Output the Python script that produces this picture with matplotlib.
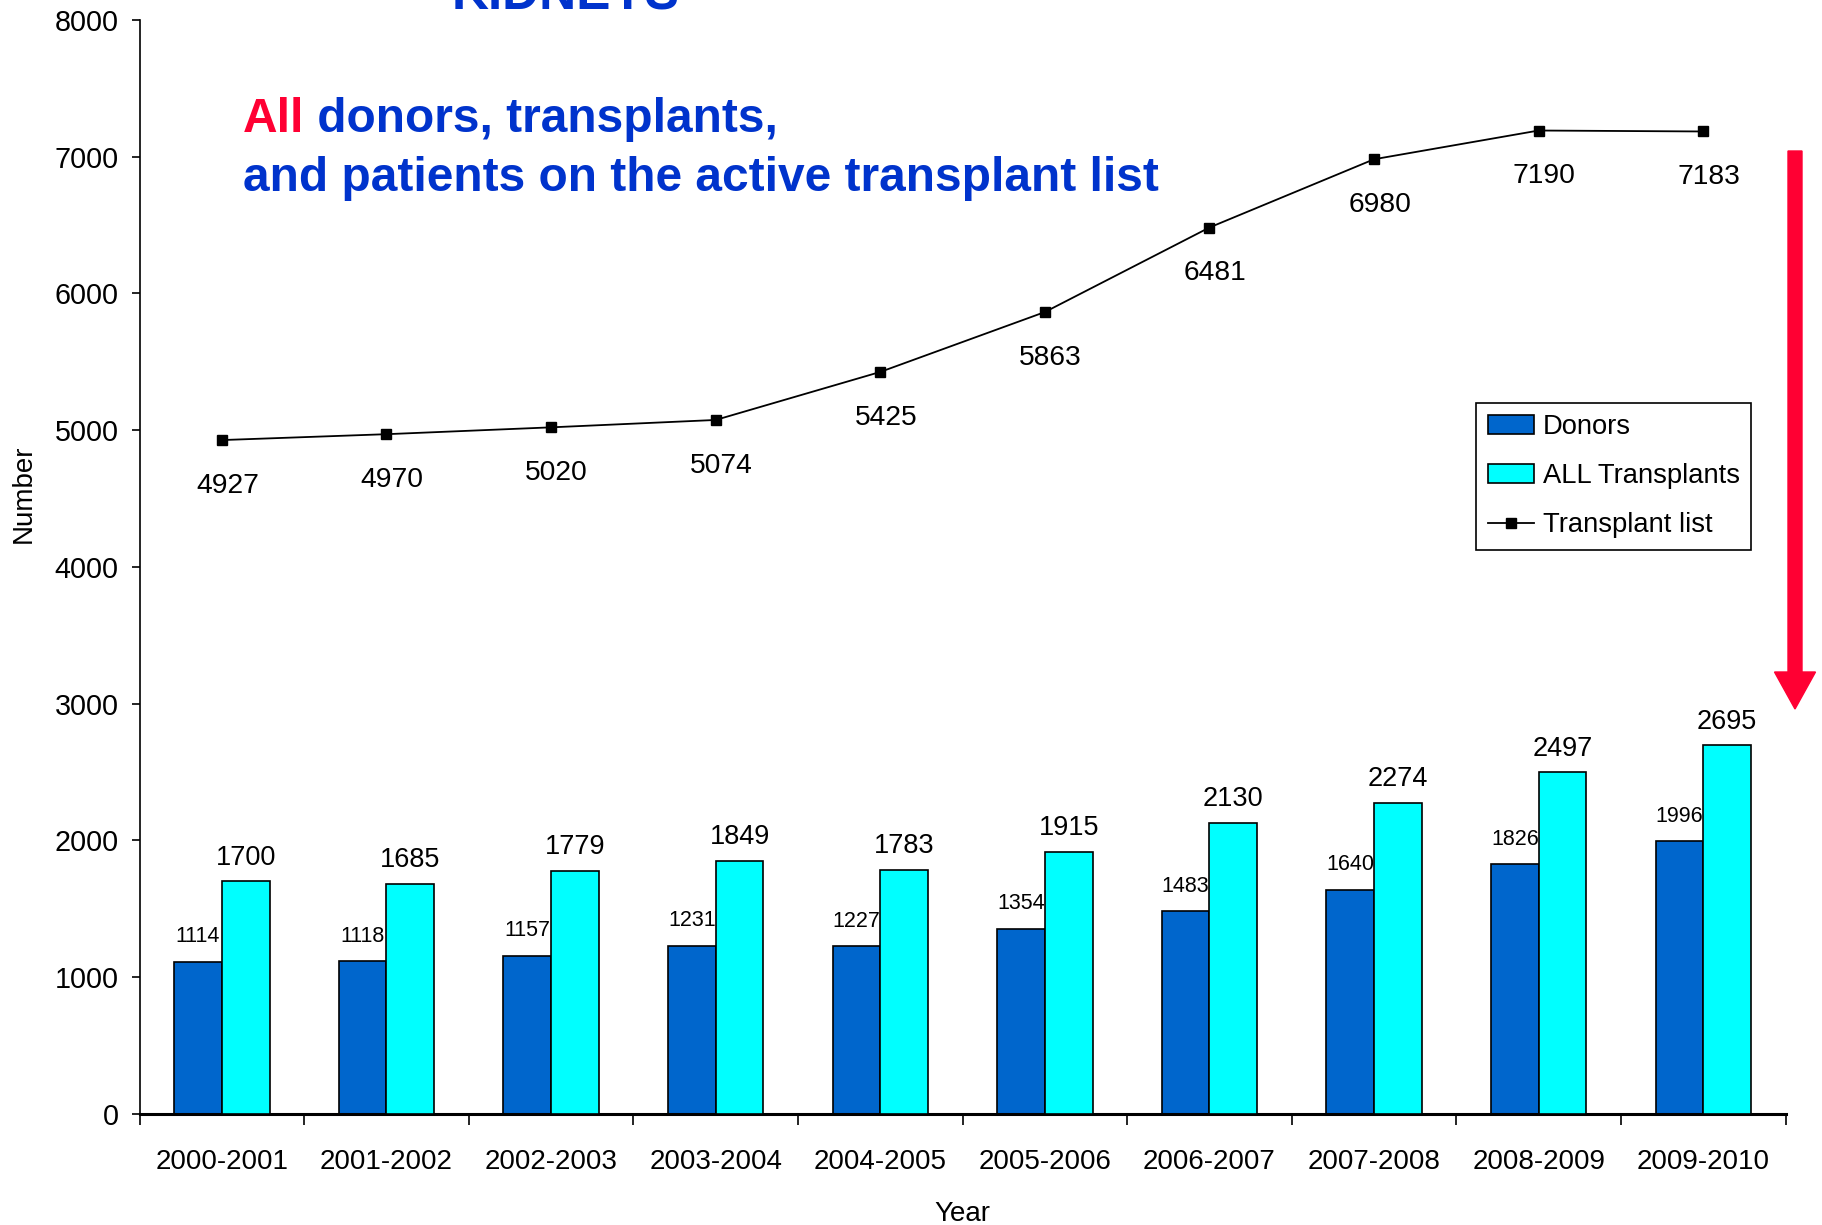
import matplotlib
matplotlib.use("Agg")
import matplotlib.pyplot as plt
from matplotlib.patches import FancyArrow
import numpy as np

# ---- data ----
anos = ["2000-2001", "2001-2002", "2002-2003", "2003-2004", "2004-2005",
        "2005-2006", "2006-2007", "2007-2008", "2008-2009", "2009-2010"]
doadores = [1114, 1118, 1157, 1231, 1227, 1354, 1483, 1640, 1826, 1996]
transplantes = [1700, 1685, 1779, 1849, 1783, 1915, 2130, 2274, 2497, 2695]
lista_espera = [4927, 4970, 5020, 5074, 5425, 5863, 6481, 6980, 7190, 7183]

plt.rcParams['font.family'] = ['Liberation Sans', 'DejaVu Sans']

azul_titulo = "#0033CC"
vermelho = "#FF0033"

fig = plt.figure(figsize=(18.22, 12.25), dpi=100)
ax = fig.add_axes([0.0766, 0.0906, 0.9034, 0.8933])

x = np.arange(len(anos))
w = 0.29

b1 = ax.bar(x - w / 2, doadores, w, color="#0066CC", edgecolor="black",
            linewidth=1.2, label="Donors", zorder=2)
b2 = ax.bar(x + w / 2, transplantes, w, color="#00FFFF", edgecolor="black",
            linewidth=1.2, label="ALL Transplants", zorder=3)
l1, = ax.plot(x, lista_espera, color="black", linewidth=1.3, marker="s",
              markersize=7, label="Transplant list", zorder=4)

# rótulos de valores
for i in range(len(anos)):
    ax.annotate(str(doadores[i]), (x[i] - w / 2, doadores[i]),
                xytext=(0, 14), textcoords="offset points",
                ha="center", va="baseline", fontsize=15.5, zorder=1)
    ax.annotate(str(transplantes[i]), (x[i] + w / 2, transplantes[i]),
                xytext=(0, 12), textcoords="offset points",
                ha="center", va="baseline", fontsize=19.5)
    ax.annotate(str(lista_espera[i]), (x[i], lista_espera[i]),
                xytext=(4, -38), textcoords="offset points",
                ha="center", va="baseline", fontsize=20.3)

# eixos
ax.set_xlim(-0.5, len(anos) - 0.5)
ax.set_ylim(0, 8000)
ax.set_yticks(np.arange(0, 8001, 1000))
ax.set_xticks(x)
ax.set_xticklabels(anos)
ax.set_xticks(np.arange(-0.5, len(anos), 1), minor=True)
ax.tick_params(axis="x", which="major", length=0, pad=25, labelsize=20)
ax.tick_params(axis="x", which="minor", length=8, width=1.2, direction="out")
ax.tick_params(axis="y", length=6, width=1.2, pad=9, labelsize=20.7)

ax.spines["top"].set_visible(False)
ax.spines["right"].set_visible(False)
ax.spines["left"].set_linewidth(1.2)
ax.spines["bottom"].set_linewidth(2.2)

ax.set_ylabel("Number", fontsize=20)
ax.set_xlabel("Year", fontsize=20)
ax.yaxis.set_label_coords(-0.0623, 0.567)
ax.xaxis.set_label_coords(0.5, -0.0795)

leg = ax.legend(handles=[b1, b2, l1], loc="upper right",
                bbox_to_anchor=(0.979, 0.650),
                fontsize=19.7, frameon=True, fancybox=False,
                edgecolor="black", framealpha=1, borderpad=0.42,
                labelspacing=0.84, handlelength=1.7, handleheight=0.7,
                handletextpad=0.3, borderaxespad=0)
leg.get_frame().set_linewidth(1.2)

# títulos
fig.text(566 / 1822, 1 - 9.3 / 1225, "KIDNEYS", color=azul_titulo,
         fontsize=37, fontweight="bold", ha="center", va="baseline")
t_all = fig.text(243 / 1822, 1 - 132 / 1225, "All", color=vermelho,
                 fontsize=34.5, fontweight="bold", ha="left", va="baseline")
fig.text(243 / 1822, 1 - 191 / 1225,
         "and patients on the active transplant list", color=azul_titulo,
         fontsize=34.5, fontweight="bold", ha="left", va="baseline")
ax.annotate(" donors, transplants,", xy=(1, 0), xycoords=t_all,
            color=azul_titulo, fontsize=34.5, fontweight="bold",
            ha="left", va="bottom", annotation_clip=False)

# seta vermelha
seta = FancyArrow(1795 / 1822, 1 - 151 / 1225, 0, -(709 - 151) / 1225,
                  width=14 / 1822, head_width=41 / 1822,
                  head_length=37 / 1225, length_includes_head=True,
                  color=vermelho, transform=fig.transFigure)
fig.patches.append(seta)

fig.savefig("out.png", dpi=100)
plt.close(fig)
